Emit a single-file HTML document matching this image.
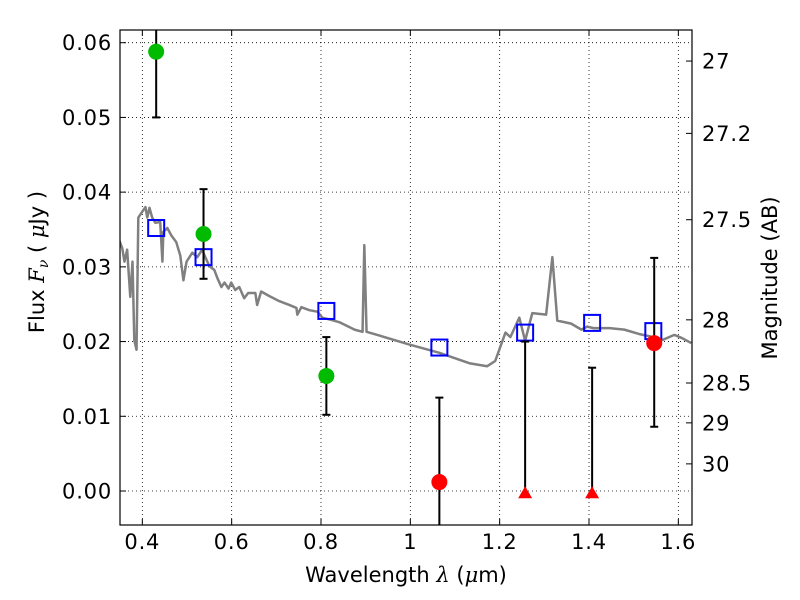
<!DOCTYPE html>
<html><head><meta charset="utf-8"><style>
body{margin:0;background:#fff;}
svg{display:block;font-family:"DejaVu Sans","Liberation Sans",sans-serif;}
.tk{letter-spacing:0.8px;}
</style></head><body>
<svg id="c" width="800" height="600"></svg>
<script>
const specLam=[.348,.355,.360,.366,.373,.378,.382,.387,.391,.400,.407,.411,.416,.422,.429,.440,.445,.447,.456,.465,.476,.485,.492,.499,.512,.523,.534,.541,.550,.561,.568,.577,.584,.593,.599,.608,.617,.628,.637,.653,.657,.666,.684,.707,.729,.745,.747,.756,.774,.792,.803,.823,.841,.875,.893,.897,.902,.931,.998,1.065,1.132,1.172,1.190,1.213,1.224,1.244,1.257,1.273,1.304,1.318,1.329,1.360,1.383,1.396,1.410,1.446,1.479,1.513,1.537,1.551,1.564,1.591,1.607,1.629];
const specFlux=[.0336,.0325,.0307,.0323,.0260,.0307,.0202,.0189,.0366,.0374,.0380,.0366,.0379,.0366,.0359,.0360,.0307,.0347,.0352,.0342,.0333,.0315,.0282,.0307,.0319,.0313,.0323,.0313,.0301,.0296,.0285,.0273,.0279,.0271,.0279,.0269,.0273,.0258,.0265,.0265,.0249,.0267,.0261,.0254,.0249,.0245,.0236,.0246,.0242,.0240,.0232,.0229,.0226,.0216,.0213,.0329,.0213,.0208,.0196,.0185,.0171,.0167,.0174,.0212,.0206,.0232,.0201,.0238,.0236,.0313,.0228,.0224,.0216,.0220,.0218,.0218,.0216,.0210,.0207,.0200,.0202,.0209,.0205,.0198];
const modelLam=[.431,.537,.812,1.065,1.257,1.407,1.544];
const modelFlux=[.0352,.0313,.0241,.0192,.0212,.0225,.0214];
const detLam=[.431,.537,.812];
const detFlux=[.0588,.0344,.0154];
const detLo=[.0500,.0284,.0102];
const detHi=[.07,.0404,.0206];
const lowLam=[1.065,1.546];
const lowFlux=[.0012,.0198];
const lowLo=[-.01,.0086];
const lowHi=[.0125,.0312];
const limLam=[1.257,1.407];
const limFlux=[-.0003,-.0003];
const limHi=[.0200,.0165];
const xTicks=[0.4,0.6,0.8,1,1.2,1.4,1.6];
const xTickLabels=["0.4","0.6","0.8","1","1.2","1.4","1.6"];
const yTicks=[0,.01,.02,.03,.04,.05,.06];
const yTickLabels=["0.00","0.01","0.02","0.03","0.04","0.05","0.06"];
const magTicks=[27,27.2,27.5,28,28.5,29,30];
const magLabels=["27","27.2","27.5","28","28.5","29","30"];

const L=120,R=692,T=30,B=525;
const xmin=0.35,xmax=1.6306,ymin=-0.00455,ymax=0.0617;
const X=v=>L+(v-xmin)/(xmax-xmin)*(R-L);
const Y=v=>B-(v-ymin)/(ymax-ymin)*(B-T);
const svg=document.getElementById('c');
const NS='http://www.w3.org/2000/svg';
function mk(t,a,p){const e=document.createElementNS(NS,t);for(const k in a)e.setAttribute(k,a[k]);(p||svg).appendChild(e);return e;}
const defs=mk('defs',{});const cp=mk('clipPath',{id:'cp'},defs);mk('rect',{x:L,y:T,width:R-L,height:B-T},cp);
const plot=mk('g',{'clip-path':'url(#cp)'});


xTicks.forEach(v=>{const g=mk('line',{x1:X(v),x2:X(v),y1:T,y2:B,stroke:'#000','stroke-width':0.8,'stroke-dasharray':'1,3'},plot);

});
yTicks.forEach(v=>{const g=mk('line',{x1:L,x2:R,y1:Y(v),y2:Y(v),stroke:'#000','stroke-width':0.8,'stroke-dasharray':'1,3'},plot);

});
const sp=mk('polyline',{points:specLam.map((l,i)=>X(l)+','+Y(specFlux[i])).join(' '),fill:'none',stroke:'#808080','stroke-width':2.5,'stroke-linejoin':'round'},plot);


modelLam.forEach((l,i)=>{const r=mk('rect',{x:X(l)-8,y:Y(modelFlux[i])-8,width:16,height:16,fill:'none',stroke:'#0000ff','stroke-width':2},plot);

});
function err(x,lo,hi,name){const g=mk('g',{},plot);


mk('line',{x1:x,x2:x,y1:Y(lo),y2:Y(hi),stroke:'#000','stroke-width':2},g);
mk('line',{x1:x-4,x2:x+4,y1:Y(lo),y2:Y(lo),stroke:'#000','stroke-width':2},g);
mk('line',{x1:x-4,x2:x+4,y1:Y(hi),y2:Y(hi),stroke:'#000','stroke-width':2},g);}
detLam.forEach((l,i)=>{err(X(l),detLo[i],detHi[i],'detection-errorbar');
const c=mk('circle',{cx:X(l),cy:Y(detFlux[i]),r:8,fill:'#00bb00',stroke:'none'},plot);

});
lowLam.forEach((l,i)=>{err(X(l),lowLo[i],lowHi[i],'low-sn-errorbar');
const c=mk('circle',{cx:X(l),cy:Y(lowFlux[i]),r:8,fill:'#ff0000',stroke:'none'},plot);

});
limLam.forEach((l,i)=>{const x=X(l),y=Y(limFlux[i]);
const ln=mk('line',{x1:x,x2:x,y1:y,y2:Y(limHi[i]),stroke:'#000','stroke-width':2},plot);


mk('line',{x1:x-4,x2:x+4,y1:Y(limHi[i]),y2:Y(limHi[i]),stroke:'#000','stroke-width':2},plot);
const t=mk('polygon',{points:`${x-7},${y+5} ${x+7},${y+5} ${x},${y-7}`,fill:'#ff0000'},plot);

});
const fr=mk('rect',{x:L,y:T,width:R-L,height:B-T,fill:'none',stroke:'#000','stroke-width':1.2});


xTicks.forEach((v,i)=>{mk('line',{x1:X(v),x2:X(v),y1:B,y2:B-6,stroke:'#000'});mk('line',{x1:X(v),x2:X(v),y1:T,y2:T+6,stroke:'#000'});
const t=mk('text',{x:X(v),y:B+24,'text-anchor':'middle','font-size':21,class:'tk'});t.textContent=xTickLabels[i];

});
yTicks.forEach((v,i)=>{mk('line',{x1:L,x2:L+6,y1:Y(v),y2:Y(v),stroke:'#000'});
const t=mk('text',{x:L-8,y:Y(v)+7.5,'text-anchor':'end','font-size':21,class:'tk'});t.textContent=yTickLabels[i];

});
magTicks.forEach((m,i)=>{const f=Math.pow(10,(23.9-m)/2.5);const y=Y(f);
mk('line',{x1:R,x2:R-6,y1:y,y2:y,stroke:'#000'});
const t=mk('text',{x:R+10,y:y+7.5,'font-size':21,class:'tk'});t.textContent=magLabels[i];

});
let t=mk('text',{x:406,y:582,'text-anchor':'middle','font-size':21,'xml:space':'preserve'});
t.innerHTML='Wavelength  <tspan font-family="DejaVu Serif" font-style="italic">λ</tspan> (<tspan font-family="DejaVu Serif" font-style="italic">μ</tspan>m)';


t=mk('text',{transform:'translate(44,262) rotate(-90)','text-anchor':'middle','font-size':21,'xml:space':'preserve'});
t.innerHTML='Flux  <tspan font-family="DejaVu Serif" font-style="italic">F<tspan font-size="14" dy="4">ν</tspan></tspan><tspan dy="-4">  (  </tspan><tspan font-family="DejaVu Serif" font-style="italic">μ</tspan>Jy )';


t=mk('text',{transform:'translate(777,278) rotate(-90)','text-anchor':'middle','font-size':21});
t.textContent='Magnitude (AB)';


</script>
</body></html>
